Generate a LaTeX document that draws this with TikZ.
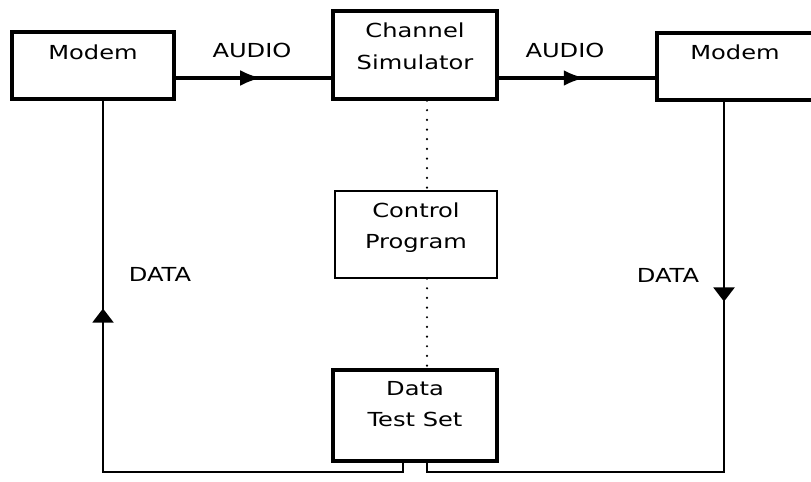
\documentclass[tikz,border=0pt]{standalone}
\usepackage{fontspec}
\newfontfamily\blockfont[FakeStretch=1.25]{DejaVu Sans}
\usetikzlibrary{arrows.meta, decorations.markings}

\tikzset{
  block/.style={draw, line width=1.8pt, inner sep=0pt},
  thinblock/.style={draw, line width=0.7pt, inner sep=0pt},
  txt/.style={font=\blockfont\fontsize{11}{18}\selectfont, align=center, inner sep=0pt},
  audio/.style={line width=2pt, postaction={decorate},
    decoration={markings, mark=at position 0.55 with {\arrow{Latex[length=12pt,width=9pt]}}}},
  dataline/.style={line width=1pt, postaction={decorate},
    decoration={markings, mark=at position #1 with {\arrow{Triangle[length=8pt,width=12pt]}}}},
  dots/.style={line width=1.4pt, line cap=round, dash pattern=on 0pt off 5.5pt}
}

\begin{document}
\begin{tikzpicture}[x=0.02cm, y=-0.02cm]
  \clip (0,0) rectangle (811,482);

  % blocks
  \node[block, minimum width=3.24cm, minimum height=1.34cm] (lmodem) at (93,65.5) {};
  \node[block, minimum width=3.28cm, minimum height=1.76cm] (chsim) at (415,55) {};
  \node[block, minimum width=3.24cm, minimum height=1.34cm] (rmodem) at (738,66.5) {};
  \node[thinblock, minimum width=3.24cm, minimum height=1.74cm] (ctrl) at (416,234.5) {};
  \node[block, minimum width=3.28cm, minimum height=1.82cm] (dts) at (415,415.5) {};

  % block texts
  \node[txt] (lmodemtxt) at (93,52) {Modem};
  \node[txt] (chsimtxt) at (415,46.5) {Channel\\Simulator};
  \node[txt] (rmodemtxt) at (735,52) {Modem};
  \node[txt] (ctrltxt) at (416,227.5) {Control\\Program};
  \node[txt] (dtstxt) at (415,404) {Data\\Test Set};

  % audio path
  \coordinate (audioy) at (0,78);
  \draw[audio] (lmodem.east |- audioy) -- (chsim.west |- audioy);
  \draw[audio] (chsim.east |- audioy) -- (rmodem.west |- audioy);
  \node[txt] (laudio) at (252,50) {AUDIO};
  \node[txt] (raudio) at (565,50) {AUDIO};

  % control links
  \coordinate (dotx) at (427,0);
  \draw[dots] (chsim.south -| dotx) -- (ctrl.north -| dotx);
  \draw[dots] (ctrl.south -| dotx) -- (dts.north -| dotx);

  % data loops
  \coordinate (lbus) at (103,472);
  \coordinate (rbus) at (724,472);
  \draw[dataline=-4.16cm] ([xshift=-0.24cm]dts.south) |- (lbus) -- (lbus |- lmodem.south);
  \draw[dataline=4cm] (rbus |- rmodem.south) -- (rbus) -| ([xshift=0.24cm]dts.south);
  \node[txt] (ldata) at (160,274) {DATA};
  \node[txt] (rdata) at (668,275) {DATA};
\end{tikzpicture}
\end{document}
